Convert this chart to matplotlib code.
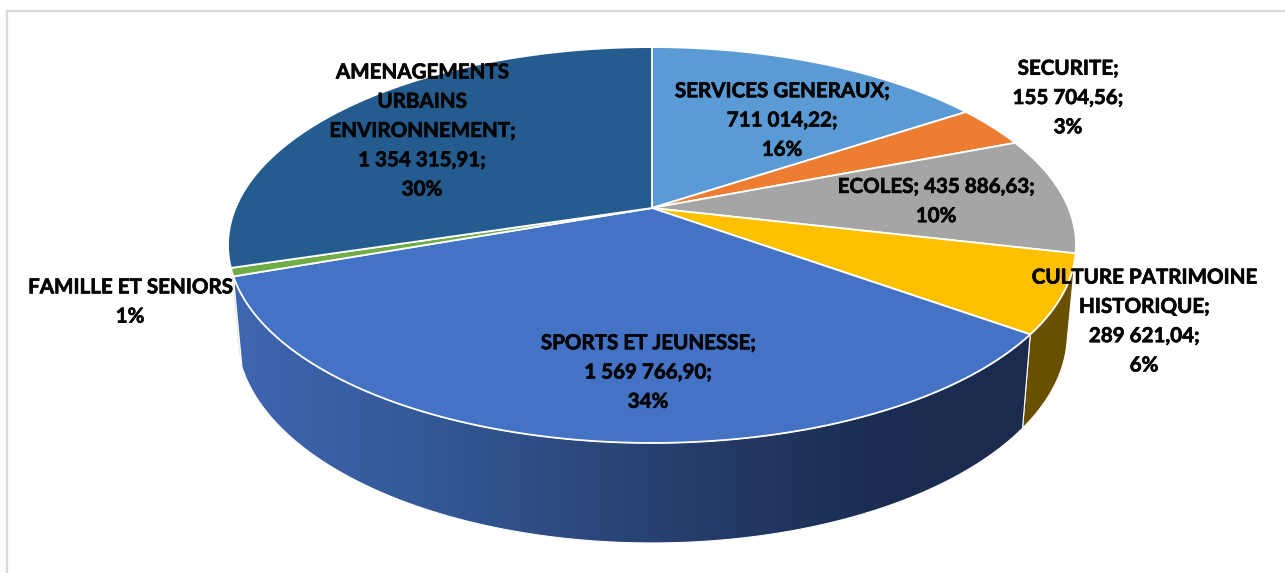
import numpy as np
import matplotlib
matplotlib.use('Agg')
import matplotlib.pyplot as plt
import matplotlib.patheffects as pe
from matplotlib.colors import LinearSegmentedColormap
from matplotlib.patches import Polygon

# clockwise from 12 o'clock
categories = ['SERVICES GENERAUX', 'SECURITE', 'ECOLES', 'CULTURE PATRIMOINE HISTORIQUE',
              'SPORTS ET JEUNESSE', 'FAMILLE ET SENIORS', 'AMENAGEMENTS URBAINS ENVIRONNEMENT']
values = [711014.22, 155704.56, 435886.63, 289621.04, 1569766.90, 30000.0, 1354315.91]
top_colors = ['#5B9BD5', '#ED7D31', '#A5A5A5', '#FFC000', '#4472C4', '#70AD47', '#255C8F']
side_colors = ['#2F5D85', '#8A4A1D', '#636363', '#695000', '#2A4676', '#B5D3A0', '#163A5A']

labels = ['SERVICES GENERAUX;\n711 014,22;\n16%',
          'SECURITE;\n155 704,56;\n3%',
          'ECOLES; 435 886,63;\n10%',
          'CULTURE PATRIMOINE\nHISTORIQUE;\n289 621,04;\n6%',
          'SPORTS ET JEUNESSE;\n1 569 766,90;\n34%',
          'FAMILLE ET SENIORS\n1%',
          'AMENAGEMENTS\nURBAINS\nENVIRONNEMENT;\n1 354 315,91;\n30%']
label_x = [782, 1068, 936, 1144, 648, 130, 422]
label_y = [120.5, 98, 201.5, 321.5, 372.5, 302, 131]

# perspective of the disc, in pixels
cx, cy = 652, 208
a_top, b_top, k = 416.5, 191, 0.187
a_bot, b_bot, cy_bot = 408, 202, 294.5


def rim(theta, a, b, y0):
    d = 1 + k * np.cos(theta)
    return cx + a * np.sin(theta) / d, y0 - b * np.cos(theta) / d


plt.rcParams['font.family'] = ['Lato', 'DejaVu Sans']
fig = plt.figure(figsize=(12.85, 5.73), dpi=100)
ax = fig.add_axes([0, 0, 1, 1])
ax.axis('off')

edges = np.cumsum([0] + values) / sum(values) * 2 * np.pi
side_grad = LinearSegmentedColormap.from_list('side', [(0, '#3F66B0'), (0.25, '#335895'),
                                                      (0.55, '#273F6E'), (0.8, '#1B2D52'),
                                                      (1, '#1A2B4E')])

# sides first, the front ones last
for i in [6, 0, 1, 2, 5, 3, 4]:
    th = np.linspace(edges[i], edges[i + 1], 200)
    xt, yt = rim(th, a_top, b_top, cy)
    xb, yb = rim(th, a_bot, b_bot, cy_bot)
    pts = np.column_stack([np.r_[xt, xb[::-1]], np.r_[yt, yb[::-1]]])
    if categories[i] == 'SPORTS ET JEUNESSE':
        poly = Polygon(pts, closed=True, fc='none', ec='none', transform=ax.transData)
        ax.add_patch(poly)
        im = ax.imshow(np.linspace(0, 1, 400)[None, :], cmap=side_grad, aspect='auto',
                       extent=[235, 1035, 560, 250], zorder=2)
        im.set_clip_path(poly)
        ax.add_patch(Polygon(pts, closed=True, fc='none', ec='white', lw=0.8, zorder=2.1))
    else:
        ax.add_patch(Polygon(pts, closed=True, fc=side_colors[i], ec='white', lw=0.8, zorder=1.5))

# top faces
for i in range(len(values)):
    th = np.linspace(edges[i], edges[i + 1], 200)
    xt, yt = rim(th, a_top, b_top, cy)
    pts = np.column_stack([np.r_[cx, xt], np.r_[cy, yt]])
    ax.add_patch(Polygon(pts, closed=True, fc=top_colors[i], ec='white', lw=1.3, zorder=3))

for s, x, y in zip(labels, label_x, label_y):
    t = ax.text(x, y, s, ha='center', va='center', fontsize=14.8, fontweight='bold',
                color='#050505', linespacing=1.58, zorder=5)
    # the original font is a bit heavier than Lato bold
    t.set_path_effects([pe.withStroke(linewidth=0.5, foreground='#050505')])

# chart frame, only top and left are in the crop
ax.plot([6.5, 6.5, 1285], [573, 10.5, 10.5], color='#D9D9D9', lw=1.6, zorder=0)

ax.set_xlim(0, 1285)
ax.set_ylim(573, 0)
fig.savefig('out.png', dpi=100, facecolor='white')
